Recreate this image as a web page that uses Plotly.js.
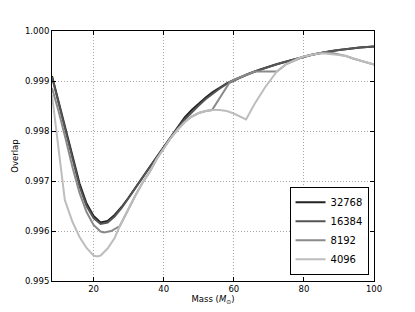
<!DOCTYPE html>
<html>
<head>
<meta charset="utf-8">
<script src="https://cdn.plot.ly/plotly-3.0.1.min.js"></script>
<style>html,body{margin:0;padding:0;background:#fff;}#chart{width:415px;height:312px;}</style>
</head>
<body>
<div id="chart"></div>
<script>
// Series names (legend)
const seriesNames = ["32768", "16384", "8192", "4096"];
const seriesColors = ["#222222", "#555555", "#8a8a8a", "#bdbdbd"];

// 32768
const mass32768 = [8.14, 10, 12, 14, 16, 18, 20, 22, 24, 26, 28, 30, 32, 34, 36, 38, 40, 42, 44, 46, 48, 50, 52, 54, 56, 58, 60, 62, 64, 66, 68, 70, 72, 74, 76, 78, 80, 82, 84, 86, 88, 90, 92, 94, 96, 98, 100];
const ov32768 = [0.99910, 0.99860, 0.99808, 0.99752, 0.99695, 0.99655, 0.99630, 0.99617, 0.99620, 0.99632, 0.99648, 0.99667, 0.99688, 0.99708, 0.99728, 0.99748, 0.99768, 0.99789, 0.99809, 0.99827, 0.99842, 0.99855, 0.99867, 0.99878, 0.99887, 0.99895, 0.99902, 0.99908, 0.99914, 0.99919, 0.99924, 0.99929, 0.99933, 0.99937, 0.99941, 0.99945, 0.99949, 0.99952, 0.99955, 0.99958, 0.99960, 0.99962, 0.99964, 0.99966, 0.99967, 0.99968, 0.99969];

// 16384
const mass16384 = [8.14, 10, 12, 14, 16, 18, 20, 22, 24, 26, 28, 30, 32, 34, 36, 38, 40, 42, 44, 46, 48, 50, 52, 54, 56, 58, 60, 62, 64, 66, 68, 70, 72, 74, 76, 78, 80, 82, 84, 86, 88, 90, 92, 94, 96, 98, 100];
const ov16384 = [0.99908, 0.99856, 0.99802, 0.99745, 0.99689, 0.99650, 0.99626, 0.99614, 0.99617, 0.99629, 0.99646, 0.99666, 0.99687, 0.99707, 0.99727, 0.99747, 0.99767, 0.99787, 0.99806, 0.99823, 0.99838, 0.99851, 0.99864, 0.99875, 0.99885, 0.99894, 0.99901, 0.99908, 0.99914, 0.99919, 0.99924, 0.99929, 0.99933, 0.99937, 0.99941, 0.99945, 0.99949, 0.99952, 0.99955, 0.99958, 0.99960, 0.99962, 0.99964, 0.99966, 0.99967, 0.99968, 0.99969];

// 8192
const mass8192 = [8.14, 10, 12, 12.8, 14, 16, 18, 20, 22, 23, 25, 27.5, 30, 32, 34, 36, 38, 40, 42, 44, 46, 48, 50, 52, 53.8, 58.8, 60, 62, 64, 66, 68, 70, 72.3, 75, 78.7, 80, 82, 84, 86, 88, 91.3, 92, 94, 96, 98, 100];
const ov8192 = [0.99886, 0.99840, 0.99785, 0.99762, 0.99727, 0.99676, 0.99638, 0.99612, 0.99599, 0.99597, 0.99600, 0.99610, 0.99645, 0.99672, 0.99697, 0.99718, 0.99744, 0.99766, 0.99786, 0.99803, 0.99818, 0.99829, 0.99836, 0.99840, 0.99842, 0.99897, 0.99902, 0.99908, 0.99914, 0.99919, 0.99919, 0.99919, 0.99919, 0.99934, 0.99946, 0.99949, 0.99952, 0.99955, 0.99957, 0.99956, 0.99952, 0.99950, 0.99945, 0.99941, 0.99937, 0.99933];

// 4096
const mass4096 = [8.14, 11.8, 14, 16, 18, 20, 21, 22, 24, 26, 27.5, 30, 32, 34, 36, 38, 40, 42, 44, 46, 48, 50, 52, 54, 56, 58, 60, 62, 63.5, 66, 69, 72.3, 75, 78.7, 80, 82, 84, 86, 88, 90, 92, 94, 96, 98, 100];
const ov4096 = [0.99872, 0.99662, 0.99618, 0.99588, 0.99566, 0.99551, 0.99549, 0.99551, 0.99565, 0.99586, 0.99610, 0.99645, 0.99672, 0.99697, 0.99718, 0.99744, 0.99766, 0.99786, 0.99803, 0.99818, 0.99829, 0.99836, 0.99840, 0.99842, 0.99842, 0.99840, 0.99835, 0.99829, 0.99823, 0.99855, 0.99888, 0.99919, 0.99934, 0.99946, 0.99949, 0.99952, 0.99955, 0.99955, 0.99954, 0.99952, 0.99950, 0.99945, 0.99941, 0.99937, 0.99933];

const xs = [mass32768, mass16384, mass8192, mass4096];
const ys = [ov32768, ov16384, ov8192, ov4096];

// Tick labels
const xTickVals = [20, 40, 60, 80, 100];
const yTickVals = [0.995, 0.996, 0.997, 0.998, 0.999, 1.000];

const traces = seriesNames.map((n, i) => ({
  type: "scatter",
  mode: "lines",
  name: n,
  x: xs[i],
  y: ys[i],
  line: {color: seriesColors[i], width: 2},
  hoverinfo: "skip"
}));

const fontFam = "DejaVu Sans, sans-serif";
const gridStyle = {showgrid: true, gridcolor: "#a6a6a6", griddash: "1px,2px", gridwidth: 1};
const layout = {
  width: 415,
  height: 312,
  margin: {l: 52, r: 41, t: 31, b: 31, pad: 0},
  paper_bgcolor: "#ffffff",
  plot_bgcolor: "#ffffff",
  font: {family: fontFam, size: 8.5, color: "#000"},
  showlegend: true,
  legend: {
    x: 0.983, y: 0.025, xanchor: "right", yanchor: "bottom",
    bgcolor: "#ffffff", bordercolor: "#000000", borderwidth: 1,
    font: {family: fontFam, size: 10, color: "#000"},
    tracegroupgap: 0, itemwidth: 30
  },
  xaxis: Object.assign({
    range: [8.14, 100],
    tickvals: xTickVals,
    ticktext: xTickVals.map(String),
    showline: true, linecolor: "#000", linewidth: 1, mirror: "ticks",
    ticks: "inside", ticklen: 4, tickcolor: "#000",
    zeroline: false,
    tickfont: {size: 8.5},
    title: {text: "Mass (<i>M</i><sub>⊙</sub>)", font: {size: 8.5}, standoff: 2}
  }, gridStyle),
  yaxis: Object.assign({
    range: [0.995, 1.000],
    tickvals: yTickVals,
    ticktext: yTickVals.map(v => v.toFixed(3)),
    showline: true, linecolor: "#000", linewidth: 1, mirror: "ticks",
    ticks: "inside", ticklen: 4, tickcolor: "#000",
    zeroline: false,
    tickfont: {size: 8.5},
    title: {text: "Overlap", font: {size: 8.5}, standoff: 4}
  }, gridStyle)
};

Plotly.newPlot("chart", traces, layout, {displayModeBar: false, staticPlot: true});
</script>
</body>
</html>
